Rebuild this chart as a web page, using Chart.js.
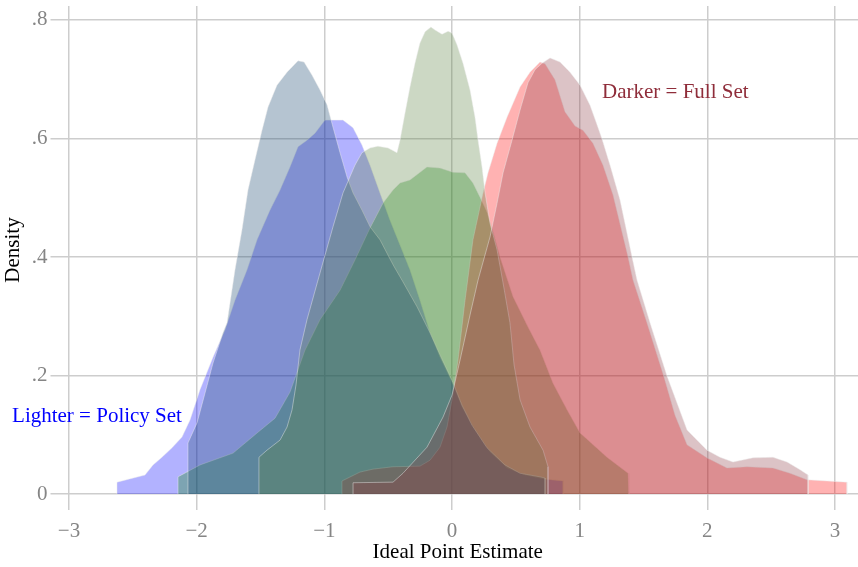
<!DOCTYPE html>
<html lang="en">
<head>
    <meta charset="UTF-8">
    <title>Ideal Point Densities</title>
    <script src="https://cdn.jsdelivr.net/npm/chart.js"></script>
    <style>
      body { margin: 0; background: #fff; }
    </style>
</head>
<body>

<div>
    <canvas id="densityChart" width="858" height="567"></canvas>
</div>

<script>
  // ticks
  const xTicks = [-3, -2, -1, 0, 1, 2, 3];
  const xTickLabels = ['\u22123', '\u22122', '\u22121', '0', '1', '2', '3'];
  const yTicks = [0, 0.2, 0.4, 0.6, 0.8];
  const yTickLabels = ['0', '.2', '.4', '.6', '.8'];

  // blue - policy set (lighter)
  const policyBlueX = [-2.624,-2.624,-2.405,-2.342,-2.272,-2.193,-2.115,-2.052,-1.974,-1.872,-1.778,-1.700,-1.606,-1.527,-1.426,-1.347,-1.269,-1.206,-1.136,-1.073,-0.995,-0.854,-0.775,-0.705,-0.642,-0.564,-0.486,-0.407,-0.329,-0.251,-0.172,-0.094,0.000,0.078,0.180,0.298,0.431,0.572,0.729,0.870,0.870];
  const policyBlueY = [0,0.020,0.032,0.049,0.062,0.078,0.096,0.125,0.176,0.231,0.277,0.327,0.378,0.429,0.479,0.513,0.552,0.586,0.597,0.609,0.631,0.631,0.618,0.589,0.555,0.508,0.462,0.420,0.378,0.327,0.272,0.231,0.189,0.147,0.108,0.071,0.044,0.032,0.025,0.022,0];

  // blue - full set (darker)
  const fullBlueX = [-2.068,-2.068,-1.997,-1.935,-1.872,-1.794,-1.762,-1.700,-1.645,-1.598,-1.543,-1.488,-1.441,-1.371,-1.292,-1.206,-1.159,-1.097,-1.034,-0.979,-0.932,-0.877,-0.822,-0.775,-0.705,-0.642,-0.564,-0.462,-0.384,-0.274,-0.172,-0.094,0.000,0.078,0.157,0.274,0.415,0.533,0.689,0.729,0.729];
  const fullBlueY = [0,0.086,0.120,0.170,0.221,0.272,0.289,0.378,0.446,0.513,0.564,0.614,0.653,0.690,0.712,0.731,0.729,0.707,0.682,0.657,0.619,0.576,0.535,0.508,0.479,0.451,0.429,0.387,0.358,0.316,0.272,0.235,0.192,0.150,0.116,0.078,0.049,0.035,0.029,0.027,0];

  // green - policy set
  const policyGreenX = [-2.146,-2.146,-1.974,-1.715,-1.527,-1.386,-1.269,-1.151,-1.034,-0.877,-0.760,-0.642,-0.540,-0.462,-0.407,-0.329,-0.196,-0.094,0.008,0.102,0.164,0.219,0.274,0.329,0.376,0.478,0.595,0.689,0.791,0.901,1.003,1.214,1.379,1.386];
  const policyGreenY = [0,0.029,0.049,0.069,0.103,0.128,0.172,0.243,0.294,0.344,0.395,0.449,0.491,0.513,0.525,0.530,0.552,0.550,0.543,0.542,0.525,0.501,0.476,0.437,0.400,0.333,0.282,0.243,0.187,0.142,0.103,0.062,0.035,0];

  // green - full set
  const fullGreenX = [-1.512,-1.512,-1.449,-1.347,-1.292,-1.253,-1.222,-1.191,-1.136,-1.034,-0.932,-0.854,-0.760,-0.705,-0.642,-0.580,-0.501,-0.431,-0.407,-0.368,-0.329,-0.290,-0.251,-0.211,-0.165,-0.133,-0.078,-0.031,0.000,0.039,0.086,0.141,0.180,0.204,0.235,0.259,0.298,0.353,0.400,0.454,0.486,0.533,0.611,0.713,0.752,0.752];
  const fullGreenY = [0,0.062,0.074,0.091,0.113,0.142,0.184,0.243,0.294,0.373,0.451,0.508,0.555,0.576,0.584,0.587,0.584,0.576,0.597,0.643,0.687,0.727,0.761,0.780,0.788,0.783,0.776,0.781,0.778,0.758,0.727,0.682,0.636,0.597,0.552,0.508,0.457,0.412,0.356,0.289,0.218,0.159,0.113,0.074,0.046,0];

  // red - policy set
  const policyRedX = [-0.862,-0.862,-0.721,-0.619,-0.462,-0.251,-0.172,-0.094,-0.039,0.000,0.047,0.102,0.164,0.243,0.282,0.353,0.431,0.533,0.611,0.689,0.729,0.807,0.885,0.964,1.026,1.104,1.183,1.261,1.379,1.418,1.527,1.661,1.747,1.841,1.997,2.154,2.311,2.514,2.648,2.781,3.094,3.094];
  const policyRedY = [0,0.022,0.037,0.042,0.046,0.047,0.057,0.079,0.113,0.159,0.226,0.327,0.429,0.508,0.542,0.592,0.636,0.687,0.712,0.729,0.726,0.699,0.645,0.621,0.614,0.592,0.555,0.505,0.400,0.361,0.289,0.197,0.133,0.083,0.061,0.044,0.046,0.044,0.035,0.024,0.020,0];

  // red - full set
  const fullRedX = [-0.775,-0.775,-0.462,-0.384,-0.196,-0.070,0.000,0.063,0.141,0.204,0.298,0.353,0.400,0.470,0.533,0.595,0.650,0.705,0.768,0.846,0.924,1.003,1.081,1.136,1.175,1.238,1.316,1.410,1.449,1.551,1.684,1.841,1.997,2.099,2.201,2.358,2.514,2.624,2.726,2.789,2.789];
  const fullRedY = [0,0.019,0.020,0.035,0.079,0.130,0.167,0.226,0.302,0.361,0.434,0.491,0.542,0.597,0.648,0.694,0.716,0.727,0.736,0.729,0.712,0.690,0.656,0.623,0.599,0.555,0.496,0.400,0.361,0.289,0.199,0.108,0.074,0.062,0.054,0.061,0.062,0.054,0.041,0.032,0];

  const serif = "'Liberation Serif', 'DejaVu Serif', serif";

  function pts(xs, ys) {
    return xs.map((x, i) => ({ x: x, y: ys[i] }));
  }

  function area(label, xs, ys, color) {
    return {
      label: label,
      data: pts(xs, ys),
      backgroundColor: color,
      borderColor: 'rgba(235,235,235,0.45)',
      borderWidth: 1,
      fill: 'origin',
      tension: 0,
      pointRadius: 0
    };
  }

  // notes written on the plot
  const notes = [
    { text: 'Darker = Full Set', x: 1.175, y: 0.677, color: '#8f2d3a' },
    { text: 'Lighter = Policy Set', x: -3.446, y: 0.130, color: '#0000ff' }
  ];

  const notePlugin = {
    id: 'notes',
    afterDatasetsDraw(chart) {
      const ctx = chart.ctx;
      const sx = chart.scales.x, sy = chart.scales.y;
      ctx.save();
      ctx.font = '21px ' + serif;
      ctx.textBaseline = 'middle';
      ctx.textAlign = 'left';
      notes.forEach(n => {
        ctx.fillStyle = n.color;
        ctx.fillText(n.text, sx.getPixelForValue(n.x), sy.getPixelForValue(n.y));
      });
      ctx.restore();
    }
  };

  document.addEventListener('DOMContentLoaded', function() {
    // full sets first so they are painted over the policy sets
    new Chart(document.getElementById('densityChart'), {
      type: 'line',
      data: {
        datasets: [
          area('Full red', fullRedX, fullRedY, 'rgba(138,55,65,0.3)'),
          area('Full green', fullGreenX, fullGreenY, 'rgba(85,125,58,0.3)'),
          area('Full blue', fullBlueX, fullBlueY, 'rgba(26,71,111,0.32)'),
          area('Policy red', policyRedX, policyRedY, 'rgba(255,0,0,0.3)'),
          area('Policy green', policyGreenX, policyGreenY, 'rgba(0,128,0,0.3)'),
          area('Policy blue', policyBlueX, policyBlueY, 'rgba(0,0,255,0.3)')
        ]
      },
      options: {
        responsive: false,
        animation: false,
        devicePixelRatio: 1,
        layout: { padding: { top: 6, right: 0, bottom: 0, left: 0 } },
        plugins: {
          legend: { display: false },
          tooltip: { enabled: false }
        },
        scales: {
          x: {
            type: 'linear',
            min: -3.09,
            max: 3.18,
            afterFit: s => { s.height = 73; s.paddingLeft = 0; s.paddingRight = 0; },
            afterBuildTicks: s => { s.ticks = xTicks.map(v => ({ value: v })); },
            border: { display: false },
            grid: { color: '#cdcdcd', lineWidth: 1.5, tickLength: 16 },
            ticks: {
              color: '#858585',
              font: { family: serif, size: 21 },
              padding: 9,
              maxRotation: 0,
              callback: v => xTickLabels[xTicks.indexOf(v)]
            },
            title: {
              display: true,
              text: 'Ideal Point Estimate',
              color: '#000',
              font: { family: serif, size: 21 },
              padding: { top: 0, bottom: 2 }
            }
          },
          y: {
            min: 0,
            max: 0.8236,
            afterFit: s => { s.width = 57.5; s.paddingTop = 0; s.paddingBottom = 0; },
            afterBuildTicks: s => { s.ticks = yTicks.map(v => ({ value: v })); },
            border: { display: false },
            grid: { color: '#cdcdcd', lineWidth: 1.5, tickLength: 7 },
            ticks: {
              color: '#858585',
              font: { family: serif, size: 21 },
              padding: 3,
              callback: v => yTickLabels[yTicks.indexOf(v)]
            },
            title: {
              display: true,
              text: 'Density',
              color: '#000',
              font: { family: serif, size: 21 },
              padding: { top: 1, bottom: 0 }
            }
          }
        }
      },
      plugins: [notePlugin]
    });
  });
</script>

</body>
</html>
